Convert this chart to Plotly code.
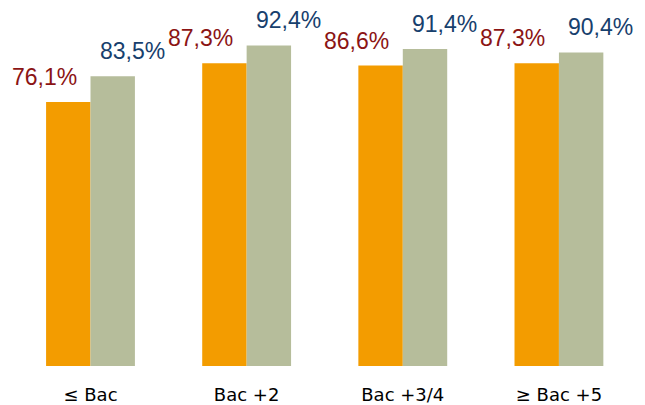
import plotly.graph_objects as go

categories = ["≤ Bac", "Bac +2", "Bac +3/4", "≥ Bac +5"]
serie_a = [76.1, 87.3, 86.6, 87.3]
serie_b = [83.5, 92.4, 91.4, 90.4]

def fmt(v):
    return f"{v:.1f}%".replace(".", ",")

ORANGE = "#F39C00"
GREY = "#B6BD9B"
RED = "#8B1414"
BLUE = "#17406D"

fig = go.Figure()
fig.add_bar(x=categories, y=serie_a, marker=dict(color=ORANGE, line=dict(width=0)), name="A")
fig.add_bar(x=categories, y=serie_b, marker=dict(color=GREY, line=dict(width=0)), name="B")

annotations = []
for c, a, b in zip(categories, serie_a, serie_b):
    annotations.append(dict(x=c, y=a, text=fmt(a), showarrow=False, xshift=-46, yshift=10,
                            yanchor="bottom", font=dict(color=RED, size=23, family="Liberation Sans, Arial")))
    annotations.append(dict(x=c, y=b, text=fmt(b), showarrow=False, xshift=42, yshift=10,
                            yanchor="bottom", font=dict(color=BLUE, size=23, family="Liberation Sans, Arial")))

fig.update_layout(
    width=637, height=397,
    margin=dict(l=2, r=8, t=0, b=39),
    barmode="group", bargap=0.431, bargroupgap=0,
    showlegend=False,
    plot_bgcolor="white", paper_bgcolor="white",
    annotations=annotations,
    font=dict(family="Liberation Sans, Arial", color="black"),
)
fig.update_xaxes(showline=False, showgrid=False, ticks="outside", ticklen=12, tickcolor="rgba(0,0,0,0)",
                 tickfont=dict(size=18, color="black", family="DejaVu Sans"))
fig.update_yaxes(range=[0, 103.2], visible=False, showgrid=False, zeroline=False)

fig.write_html("out.html")
